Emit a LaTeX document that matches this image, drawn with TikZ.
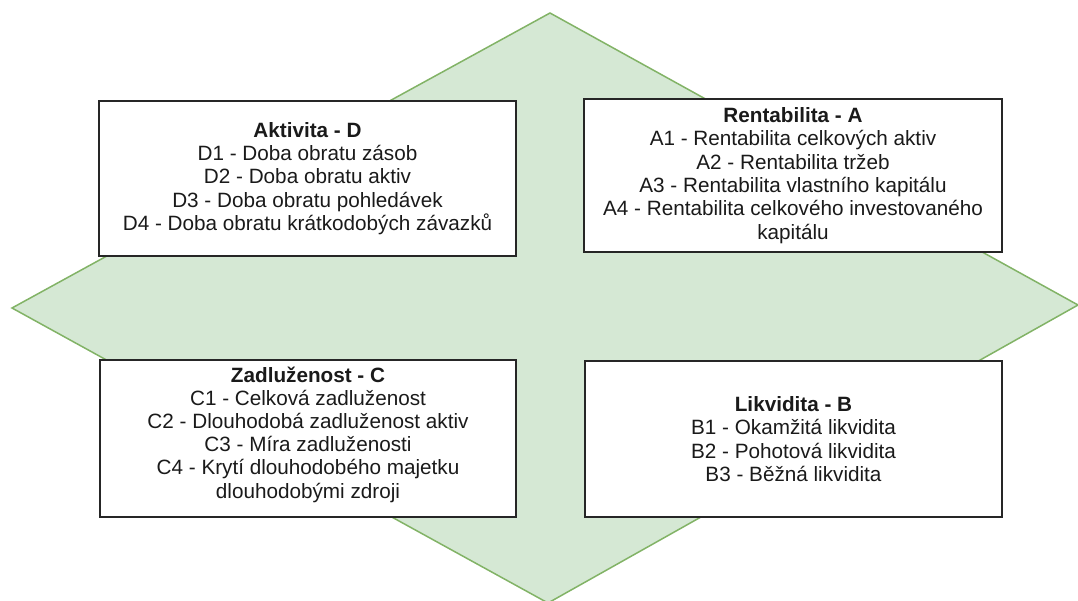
\documentclass[tikz,border=0pt]{standalone}
\usepackage{fontspec}
\setmainfont{Liberation Sans}
\definecolor{dfill}{HTML}{D5E8D4}
\definecolor{dline}{HTML}{82B366}
\definecolor{txt}{HTML}{1A1A1A}
\begin{document}
\begin{tikzpicture}[x=1pt,y=-1pt,
  diam/.style={fill=dfill,draw=dline,line width=1.5pt,line join=miter},
  box/.style={draw=black!85,fill=white,line width=1.4pt,inner sep=0pt,
    align=center,text=txt,font=\fontsize{20.7pt}{23.4pt}\selectfont}]
\useasboundingbox (0,0) rectangle (1078,601);
\coordinate (top) at (550,13);
\coordinate (right) at (1078,305);
\coordinate (bottom) at (548,603);
\coordinate (left) at (12,308);
\draw[diam] (top) -- (right) -- (bottom) -- (left) -- cycle;
\node[box,minimum width=417pt,minimum height=155pt] (D) at (307.5,178.5)
  {\textbf{Aktivita - D}\\D1 - Doba obratu zásob\\D2 - Doba obratu aktiv\\D3 - Doba obratu pohledávek\\D4 - Doba obratu krátkodobých závazků};
\node[box,minimum width=418pt,minimum height=153pt] (A) at (793,175.5)
  {\textbf{Rentabilita - A}\\A1 - Rentabilita celkových aktiv\\A2 - Rentabilita tržeb\\A3 - Rentabilita vlastního kapitálu\\A4 - Rentabilita celkového investovaného\\kapitálu};
\node[box,minimum width=416pt,minimum height=157pt] (C) at (308,438.5) {};
\node[align=center,text=txt,font=\fontsize{20.7pt}{23.2pt}\selectfont,inner sep=0pt] (Ct) at (308,434.5)
  {\textbf{Zadluženost - C}\\C1 - Celková zadluženost\\C2 - Dlouhodobá zadluženost aktiv\\C3 - Míra zadluženosti\\C4 - Krytí dlouhodobého majetku\\dlouhodobými zdroji};
\node[box,minimum width=417pt,minimum height=156pt] (B) at (793.5,439)
  {\textbf{Likvidita - B}\\B1 - Okamžitá likvidita\\B2 - Pohotová likvidita\\B3 - Běžná likvidita};
\end{tikzpicture}
\end{document}
